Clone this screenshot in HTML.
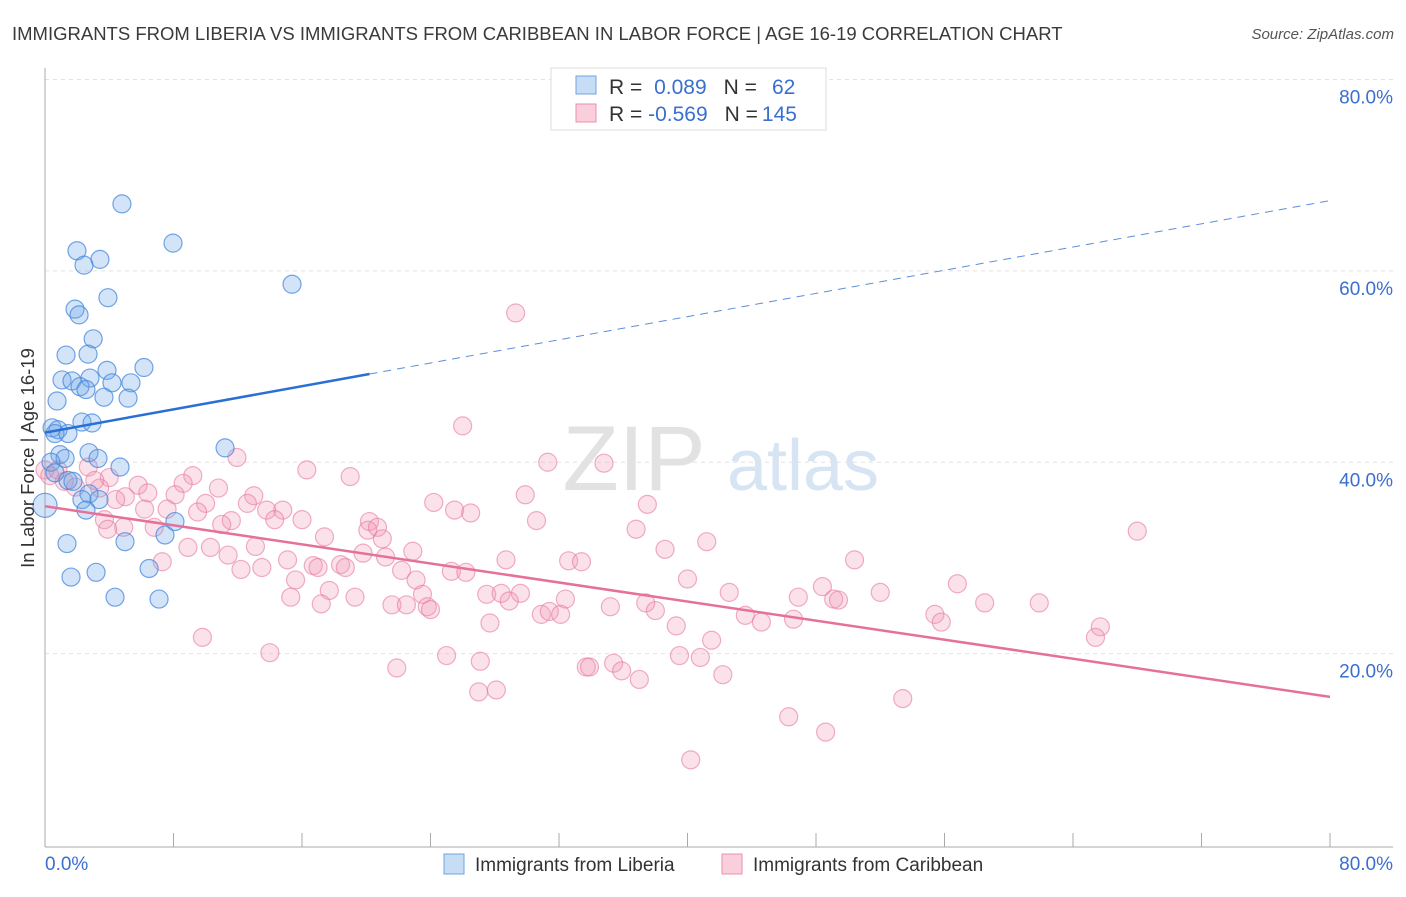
<!DOCTYPE html>
<html><head><meta charset="utf-8">
<style>
body{margin:0;background:#fff;font-family:"Liberation Sans",sans-serif;}
svg text{font-family:"Liberation Sans",sans-serif;}
</style></head>
<body>
<svg id="chart" width="1406" height="892" viewBox="0 0 1406 892" xmlns="http://www.w3.org/2000/svg">
<text x="12" y="40" font-size="18.5" fill="#3a3a3a">IMMIGRANTS FROM LIBERIA VS IMMIGRANTS FROM CARIBBEAN IN LABOR FORCE | AGE 16-19 CORRELATION CHART</text>
<text x="1394" y="39" font-size="15" fill="#555" font-style="italic" text-anchor="end">Source: ZipAtlas.com</text>
<g>
<text x="634" y="490" font-size="92" fill="#e2e2e2" font-family="Liberation Serif" text-anchor="middle">ZIP</text>
<text x="803" y="490" font-size="72" fill="#d6e4f4" text-anchor="middle">atlas</text>
</g>
<g id="grid"></g>
<g id="axes"></g>
<g id="pts"></g>
<g id="lines"></g>
<text transform="translate(34,458) rotate(-90)" font-size="18.5" fill="#333" text-anchor="middle">In Labor Force | Age 16-19</text>
<g>
<rect x="551" y="68" width="275" height="62" fill="#fff" stroke="#ddd"/>
<rect x="576" y="76" width="20" height="18" fill="#c7dcf5" stroke="#6fa3e3"/>
<rect x="576" y="104" width="20" height="18" fill="#f9cfdc" stroke="#ec8fae"/>
<text x="609" y="94" font-size="21" fill="#333">R = <tspan fill="#3a6fd0" dx="6">0.089</tspan><tspan dx="17" fill="#333">N =</tspan><tspan dx="15" fill="#3a6fd0">62</tspan></text>
<text x="609" y="121" font-size="21" fill="#333">R = <tspan fill="#3a6fd0">-0.569</tspan><tspan dx="17" fill="#333">N =</tspan><tspan dx="4" fill="#3a6fd0">145</tspan></text>
</g>
<g>
<rect x="444" y="854" width="20" height="20" fill="#c7dcf5" stroke="#6fa3e3"/>
<text x="475" y="871" font-size="19" fill="#333">Immigrants from Liberia</text>
<rect x="722" y="854" width="20" height="20" fill="#f9cfdc" stroke="#ec8fae"/>
<text x="753" y="871" font-size="19" fill="#333">Immigrants from Caribbean</text>
</g>
</svg>
<script>
const yTicks=[20,40,60,80];
const yTickLabels=["20.0%","40.0%","60.0%","80.0%"];
const xTicks=[0,8,16,24,32,40,48,56,64,72,80];
const blueX=[4.79,7.97,1.99,3.42,2.43,15.38,3.92,1.87,2.12,3.0,1.31,2.68,6.16,3.86,1.06,1.68,2.8,4.17,5.35,2.18,2.55,3.67,5.17,0.75,2.3,2.93,0.44,0.81,0.62,1.43,11.21,2.74,0.93,3.3,1.25,0.37,4.67,0.62,1.43,1.74,2.74,3.36,2.3,2.55,0,8.09,7.47,1.37,4.98,6.48,3.18,1.62,4.36,7.1];
const blueY=[67.0,62.9,62.1,61.2,60.6,58.6,57.2,56.0,55.4,52.9,51.2,51.3,49.9,49.6,48.6,48.5,48.8,48.3,48.3,47.9,47.6,46.8,46.7,46.4,44.2,44.1,43.6,43.4,43.0,43.0,41.5,41.0,40.8,40.4,40.4,40.0,39.5,38.9,38.1,38.0,36.7,36.1,36.1,35.0,35.5,33.8,32.4,31.5,31.7,28.9,28.5,28.0,25.9,25.7];
const pinkX=[29.3,26.0,11.95,31.3,34.8,16.3,19.0,2.7,0.8,9.2,8.6,5.8,10.8,4.0,3.4,1.2,6.4,8.1,5.0,4.4,13.0,29.9,24.2,10.0,12.6,37.5,6.2,7.6,14.8,13.8,9.5,25.5,26.5,3.7,11.6,11.0,14.3,16.0,20.2,30.6,4.9,6.8,3.9,20.1,20.7,36.8,68.0,17.4,21.0,41.2,8.9,10.3,13.1,19.8,22.9,38.6,7.3,11.4,21.2,15.1,28.7,32.6,33.4,50.4,16.7,17.0,18.4,18.7,12.2,13.5,22.2,25.3,26.2,15.6,23.1,40.0,48.4,56.8,17.7,23.5,27.5,28.4,29.6,42.6,52.0,15.3,19.3,28.9,32.4,46.9,49.1,49.4,17.2,21.6,22.5,23.8,24.0,35.2,37.4,58.5,61.9,30.9,31.4,32.1,38.0,43.6,55.4,44.6,46.6,55.8,27.7,39.3,65.7,9.8,41.5,65.4,14.0,25.0,39.5,40.8,27.1,35.4,21.9,33.7,33.9,35.9,37.0,42.2,27.0,28.1,53.4,46.3,48.6,40.2,0,0.3,1.9,3.1];
const pinkY=[55.6,43.8,40.5,40.0,39.9,39.2,38.5,39.5,39.2,38.6,37.8,37.6,37.3,38.4,37.3,38.0,36.8,36.6,36.4,36.1,36.5,36.6,35.8,35.7,35.7,35.6,35.1,35.1,35.0,35.0,34.8,35.0,34.7,34.0,33.9,33.5,34.0,34.0,33.8,33.9,33.2,33.2,33.0,32.9,33.2,33.0,32.8,32.2,32.0,31.7,31.1,31.1,31.2,30.5,30.7,30.9,29.6,30.3,30.1,29.8,29.8,29.7,29.6,29.8,29.2,29.0,29.3,29.0,28.8,29.0,28.7,28.6,28.5,27.7,27.7,27.8,27.0,27.3,26.6,26.2,26.2,26.3,26.3,26.4,26.4,25.9,25.9,25.5,25.7,25.9,25.7,25.6,25.2,25.1,25.1,24.9,24.6,24.9,25.3,25.3,25.3,24.1,24.4,24.1,24.5,24.0,24.1,23.3,23.6,23.3,23.2,22.9,22.8,21.7,21.4,21.7,20.1,19.8,19.8,19.6,19.2,19.0,18.5,18.6,18.6,18.2,17.3,17.8,16.0,16.2,15.3,13.4,11.8,8.9,39.2,38.6,37.4,38.1];
const blueTrend=[43.1,0.303]; // intercept, slope
const blueSolidEnd=20.2;
const pinkTrend=[35.4,-0.249];
const X=v=>45+v/80*1285;
const Y=v=>845-v/80*765.5;
const NS="http://www.w3.org/2000/svg";
function mk(tag,attrs,parent){const e=document.createElementNS(NS,tag);for(const k in attrs)e.setAttribute(k,attrs[k]);document.getElementById(parent).appendChild(e);return e;}
yTicks.forEach((t,i)=>{
  const g=mk('line',{x1:45,x2:1393,y1:Y(t),y2:Y(t),stroke:'#e2e2e2','stroke-dasharray':'4,4'},'grid');
  
  
  const tx=mk('text',{x:1393,y:Y(t)+24,'font-size':19,fill:'#3a6fd0','text-anchor':'end'},'grid');
  tx.textContent=yTickLabels[i];
  
  
});
let ax=mk('line',{x1:45,x2:45,y1:68,y2:847,stroke:'#aaa'},'axes');


ax=mk('line',{x1:45,x2:1393,y1:847,y2:847,stroke:'#aaa'},'axes');


xTicks.forEach(t=>{
  const l=mk('line',{x1:X(t),x2:X(t),y1:833,y2:847,stroke:'#aaa'},'axes');
  
  
});
let xl=mk('text',{x:45,y:870,'font-size':19,fill:'#3a6fd0'},'axes');xl.textContent='0.0%';


xl=mk('text',{x:1393,y:870,'font-size':19,fill:'#3a6fd0','text-anchor':'end'},'axes');xl.textContent='80.0%';


pinkX.forEach((v,i)=>{
  const c=mk('circle',{cx:X(v),cy:Y(pinkY[i]),r:9,fill:'rgba(242,150,180,0.28)',stroke:'rgba(232,120,158,0.6)','stroke-width':1.2},'pts');
  
  
});
blueX.forEach((v,i)=>{
  const c=mk('circle',{cx:X(v),cy:Y(blueY[i]),r:v===0?12:9,fill:'rgba(110,165,232,0.3)',stroke:'rgba(70,135,220,0.75)','stroke-width':1.2},'pts');
  
  
});
const bl=v=>blueTrend[0]+blueTrend[1]*v;
let t=mk('line',{x1:X(0),y1:Y(bl(0)),x2:X(blueSolidEnd),y2:Y(bl(blueSolidEnd)),stroke:'#2a6fd6','stroke-width':2.5},'lines');


t=mk('line',{x1:X(blueSolidEnd),y1:Y(bl(blueSolidEnd)),x2:X(80),y2:Y(bl(80)),stroke:'#5b8fd8','stroke-width':1,'stroke-dasharray':'8,6'},'lines');


const pl=v=>pinkTrend[0]+pinkTrend[1]*v;
t=mk('line',{x1:X(0),y1:Y(pl(0)),x2:X(80),y2:Y(pl(80)),stroke:'#e5719a','stroke-width':2.5},'lines');


</script>
</body></html>
